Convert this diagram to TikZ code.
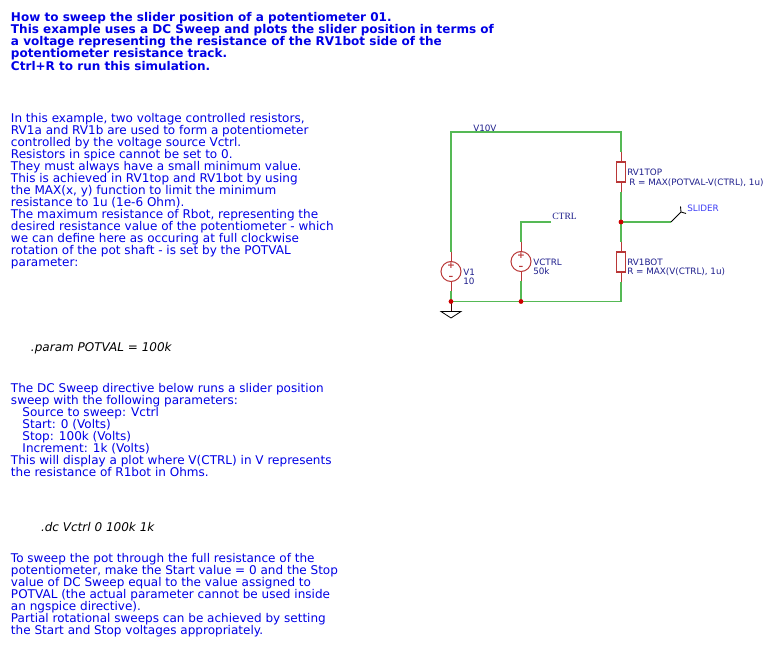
\documentclass[tikz,border=0pt]{standalone}
\usepackage{fontspec}
\setmainfont{DejaVu Sans}
\newfontfamily\serifl{Liberation Serif}
\definecolor{txtblue}{RGB}{0,0,230}
\definecolor{wiregreen}{RGB}{85,185,85}
\definecolor{partred}{RGB}{185,55,55}
\definecolor{labnavy}{RGB}{30,30,140}
\definecolor{slblue}{RGB}{60,60,245}
\definecolor{junred}{RGB}{205,0,0}
\tikzset{
  note/.style={anchor=north west,inner sep=0pt,outer sep=0pt,align=left,text=txtblue,font=\fontsize{9.02}{9.03}\selectfont},
  title/.style={note,font=\fontsize{9.02}{9.07}\selectfont\bfseries},
  directive/.style={note,text=black,font=\fontsize{9.02}{9.03}\selectfont\itshape},
  wire/.style={draw=wiregreen,line width=0.8pt},
  lead/.style={draw=partred,line width=0.75pt},
  res/.style={draw=partred,line width=0.8pt,fill=white,minimum width=6.2pt,minimum height=15pt,inner sep=0pt,rectangle},
  src/.style={draw=partred,line width=0.75pt,fill=white,circle,minimum size=15pt,inner sep=0pt},
  dot/.style={circle,fill=junred,minimum size=3.6pt,inner sep=0pt},
  lab/.style={anchor=base west,inner sep=0pt,text=labnavy,font=\fontsize{6.6}{6.6}\selectfont},
  netlab/.style={lab,font=\serifl\fontsize{7.2}{7.2}\selectfont},
  sign/.style={inner sep=0pt,text=partred,font=\fontsize{7}{7}\selectfont\bfseries}
}
\begin{document}
\begin{tikzpicture}[x=0.75pt,y=-0.75pt]
\useasboundingbox (0,0) rectangle (775,659);
\node[title] (t1) at (11,12.5) {How to sweep the slider position of a potentiometer 01.\\
This example uses a DC Sweep and plots the slider position in terms of\\
a voltage representing the resistance of the RV1bot side of the\\
potentiometer resistance track.\\
Ctrl+R to run this simulation.};
\node[note] (t2) at (11,113) {In this example, two voltage controlled resistors,\\
RV1a and RV1b are used to form a potentiometer\\
controlled by the voltage source Vctrl.\\
Resistors in spice cannot be set to 0.\\
They must always have a small minimum value.\\
This is achieved in RV1top and RV1bot by using\\
the MAX(x, y) function to limit the minimum\\
resistance to 1u (1e-6 Ohm).\\
The maximum resistance of Rbot, representing the\\
desired resistance value of the potentiometer - which\\
we can define here as occuring at full clockwise\\
rotation of the pot shaft - is set by the POTVAL\\
parameter:};
\node[directive] (d1) at (31,342.5) {.param POTVAL = 100k};
\node[note] (t3) at (11,383) {The DC Sweep directive below runs a slider position\\
sweep with the following parameters:\\
\hspace*{8.6pt}Source to sweep: Vctrl\\
\hspace*{8.6pt}Start: 0 (Volts)\\
\hspace*{8.6pt}Stop: 100k (Volts)\\
\hspace*{8.6pt}Increment: 1k (Volts)\\
This will display a plot where V(CTRL) in V represents\\
the resistance of R1bot in Ohms.};
\node[directive] (d2) at (41,522.5) {.dc Vctrl 0 100k 1k};
\node[note] (t4) at (11,553) {To sweep the pot through the full resistance of the\\
potentiometer, make the Start value = 0 and the Stop\\
value of DC Sweep equal to the value assigned to\\
POTVAL (the actual parameter cannot be used inside\\
an ngspice directive).\\
Partial rotational sweeps can be achieved by setting\\
the Start and Stop voltages appropriately.};
% coordinates
\coordinate (tl) at (451,132);
\coordinate (tr) at (621,132);
\coordinate (v1t) at (451,252);
\coordinate (v1b) at (451,291);
\coordinate (jg) at (451,301.5);
\coordinate (jc) at (521,301.5);
\coordinate (br) at (621,301.5);
\coordinate (ct) at (521,222);
\coordinate (cte) at (551,222);
\coordinate (vct) at (521,242);
\coordinate (vcb) at (521,281);
\coordinate (rtt) at (621,152);
\coordinate (rtb) at (621,192);
\coordinate (rbt) at (621,242);
\coordinate (rbb) at (621,282);
\coordinate (js) at (621,222);
\coordinate (se) at (671,222);
\coordinate (sf) at (681,212);
\coordinate (gt) at (451,311);
% wires
\path[wire] (jg) -- (v1b);
\path[wire] (v1t) -- (tl) -- (tr) -- (rtt);
\path[wire] (rtb) -- (rbt);
\path[wire] (rbb) -- (br) -- (jg);
\path[wire] (cte) -- (ct) -- (vct);
\path[wire] (vcb) -- (jc);
\path[wire] (js) -- (se);
% leads and parts
\path[lead] (rtt) -- (rtb);
\path[lead] (rbt) -- (rbb);
\path[lead] (v1t) -- (v1b);
\path[lead] (vct) -- (vcb);
\node[res] (rvt) at (621,172) {};
\node[res] (rvb) at (621,262) {};
\node[src] (v1) at (451,271.5) {};
\node[src] (vc) at (521,261.5) {};
\node[sign] (v1p) at (451,265.5) {+};
\node[sign] (v1m) at (451,278) {–};
\node[sign] (vcp) at (521,255.5) {+};
\node[sign] (vcm) at (521,268) {–};
% ground
\draw[line width=0.7pt,draw=black!75!red] (jg) -- (gt);
\draw[line width=0.6pt,black] (441,311.5) -- (461,311.5) -- (451,318) -- cycle;
% slider flag
\draw[line width=0.65pt,black] (se) -- (sf) -- (680.5,206.5) (sf) -- (686,213.5);
% junctions
\node[dot] (j1) at (jg) {};
\node[dot] (j2) at (jc) {};
\node[dot] (j3) at (js) {};
% labels
\node[lab] (lv10) at (473,131.5) {V10V};
\node[netlab] (lctrl) at (552,219.5) {CTRL};
\node[lab,text=slblue] (lsl) at (687,212) {SLIDER};
\node[lab] (lrt) at (627,175.5) {RV1TOP};
\node[lab] (lrtv) at (629,185.5) {R = MAX(POTVAL-V(CTRL), 1u)};
\node[lab] (lrb) at (627,265.5) {RV1BOT};
\node[lab] (lrbv) at (627,275) {R = MAX(V(CTRL), 1u)};
\node[lab] (lv1) at (463,275.5) {V1};
\node[lab] (lv1v) at (463,285) {10};
\node[lab] (lvc) at (533,265.5) {VCTRL};
\node[lab] (lvcv) at (533,275) {50k};
\end{tikzpicture}
\end{document}
